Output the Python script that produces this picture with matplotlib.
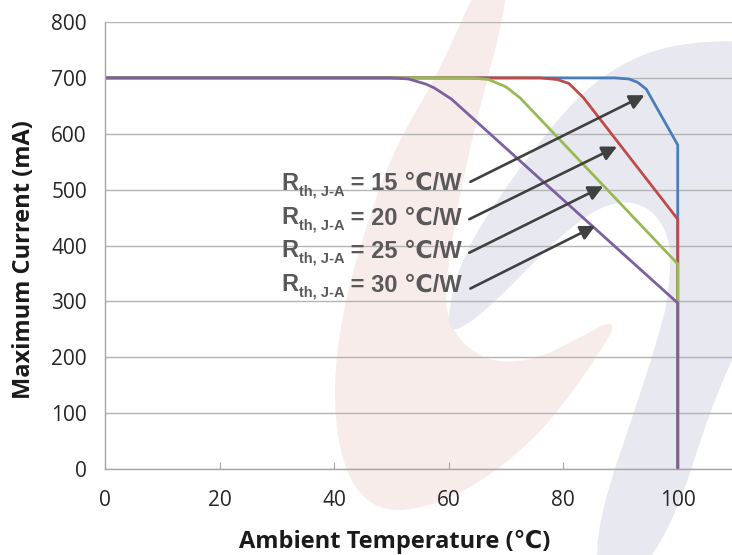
import numpy as np
import matplotlib
matplotlib.use("Agg")
import matplotlib.pyplot as plt
from matplotlib.patches import Polygon

# derating curves, Rth = 15 / 20 / 25 / 30 C/W
temp_15 = [0, 89, 91.5, 93, 94.5, 100, 100]
curr_15 = [700, 700, 698, 692, 680, 580, 0]
temp_20 = [0, 76, 79, 81, 83.5, 100, 100]
curr_20 = [700, 700, 697, 690, 665, 447, 0]
temp_25 = [0, 64, 67, 70, 72.5, 100, 100]
curr_25 = [700, 700, 697, 684, 664, 367, 0]
temp_30 = [0, 50, 53, 56, 57.5, 60.5, 100, 100]
curr_30 = [700, 700, 698, 689, 682, 662, 297, 0]

rth_labels = ["15", "20", "25", "30"]
label_y = [499, 438, 379, 317]
arrow_tail = [(63.8, 514), (63.6, 447), (63.6, 387), (63.8, 323)]
arrow_head = [(94.2, 669), (89.4, 577), (87.0, 506), (85.6, 435)]

xticks = [0, 20, 40, 60, 80, 100]
yticks = [0, 100, 200, 300, 400, 500, 600, 700, 800]

W, H = 732, 555


def smooth(pts, n=3):
    # chaikin corner cutting on a closed outline
    p = np.asarray(pts, float)
    for _ in range(n):
        q = np.roll(p, -1, axis=0)
        p = np.stack([0.75 * p + 0.25 * q, 0.25 * p + 0.75 * q], axis=1).reshape(-1, 2)
    return p


def to_fig(pts):
    p = np.asarray(pts, float)
    return np.column_stack([p[:, 0] / W, 1 - p[:, 1] / H])


# faint logo watermark behind the chart (pixel outline, y down)
pink = [(484, -30), (516, -30), (468, 153), (452, 240), (444, 300), (454, 334),
        (478, 356), (505, 363), (539, 358), (573, 341), (622, 315), (590, 368),
        (539, 436), (471, 490), (404, 514), (363, 502), (339, 455), (333, 380),
        (345, 300), (365, 230), (392, 153), (440, 70)]
gray = [(447, 334), (452, 290), (468, 247), (495, 203), (528, 157), (568, 107),
        (606, 73), (652, 50), (697, 42), (740, 41), (770, 42), (770, 330),
        (733, 341), (655, 580), (577, 580), (662, 330), (670, 280), (670, 240),
        (655, 212), (628, 200), (598, 208), (568, 230), (538, 258), (505, 292),
        (472, 322)]

fig = plt.figure(figsize=(W / 100, H / 100), dpi=100)
fig.patches.append(Polygon(to_fig(smooth(pink)), closed=True, transform=fig.transFigure,
                           facecolor='#f8eceb', edgecolor='none', zorder=-5))
fig.patches.append(Polygon(to_fig(smooth(gray)), closed=True, transform=fig.transFigure,
                           facecolor='#e8e9f0', edgecolor='none', zorder=-5))

ax = fig.add_axes([105 / W, (H - 469) / H, 630 / W, 447 / H])
ax.patch.set_visible(False)

ax.plot(temp_15, curr_15, color='#4a7ebb', lw=2.0, solid_joinstyle='round')
ax.plot(temp_20, curr_20, color='#be4b48', lw=2.0, solid_joinstyle='round')
ax.plot(temp_25, curr_25, color='#98b954', lw=2.0, solid_joinstyle='round')
ax.plot(temp_30, curr_30, color='#7d60a0', lw=2.0, solid_joinstyle='round')

fam = ['Liberation Sans', 'DejaVu Sans']
for r, y, t, h in zip(rth_labels, label_y, arrow_tail, arrow_head):
    # "R" + subscript + rest, chained right to left
    main = ax.text(62.3, y, " = " + r + " ℃/W", ha='right', va='baseline',
                   fontsize=17, fontweight='bold', color='#595959', family=fam)
    sub = ax.annotate("th, J-A", xy=(0, 0), xycoords=main, xytext=(0, -2.2),
                      textcoords='offset points', ha='right', va='bottom',
                      fontsize=10.5, fontweight='bold', color='#595959', family=fam)
    ax.annotate("R", xy=(0, 0), xycoords=sub, xytext=(-0.3, 2.6),
                textcoords='offset points', ha='right', va='bottom',
                fontsize=17, fontweight='bold', color='#595959', family=fam)
    ax.annotate("", xy=h, xytext=t,
                arrowprops=dict(arrowstyle='-|>', color='#404040', lw=1.9,
                                mutation_scale=22, shrinkA=0, shrinkB=0))

ax.set_xlim(0, 110)
ax.set_ylim(0, 800)
ax.set_xticks(xticks)
ax.set_yticks(yticks)
ax.grid(axis='y', color='#b4b4b4', lw=1.0)
ax.set_axisbelow(True)
for s in ['top', 'right']:
    ax.spines[s].set_visible(False)
for s in ['left', 'bottom']:
    ax.spines[s].set_color('#a6a6a6')
    ax.spines[s].set_linewidth(1.0)

ax.tick_params(axis='x', direction='in', length=5, color='#a6a6a6', pad=15,
               labelsize=15, labelcolor='#262626')
ax.tick_params(axis='y', length=0, pad=13, labelsize=15, labelcolor='#262626')
for lab in ax.get_xticklabels() + ax.get_yticklabels():
    lab.set_family('Open Sans')

ax.set_xlabel("Ambient Temperature (℃)", fontsize=17, fontweight='bold',
              family=['Open Sans', 'DejaVu Sans'], color='#1a1a1a')
ax.set_ylabel("Maximum Current (mA)", fontsize=17, fontweight='bold',
              family=['Open Sans', 'DejaVu Sans'], color='#1a1a1a')
ax.xaxis.set_label_coords(0.46, -0.135)
ax.yaxis.set_label_coords(-0.11, 0.468)

fig.savefig("out.png", dpi=100)
